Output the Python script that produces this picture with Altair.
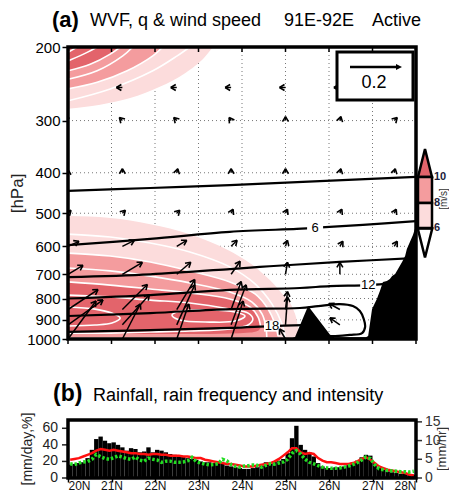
import math
import altair as alt
import pandas as pd

FONT = "Liberation Sans"
W = 348                 # plot width (both panels)
H_A = 292               # panel (a) height
B_TOP, B_BOT = 373, 431  # panel (b) vertical extent inside the single view
LAT_MIN, LAT_MAX = 20, 28
P_TOP, P_BOT = 200, 1000
PALE, MED, DARK = "#fcdcdc", "#f49c9e", "#e3646b"

# ---------------- panel (a): wind speed shading, upper-level jet (lower edge of band, lat/hPa)
UP_WS6 = [(20.00, 281), (20.74, 275), (21.43, 265), (22.11, 249), (22.69, 231), (23.15, 211), (23.33, 200)]
UP_WS8 = [(20.00, 252), (20.67, 243), (21.36, 228), (21.95, 210), (22.18, 200)]
UP_WS10 = [(20.00, 228), (20.51, 220), (20.97, 208), (21.20, 200)]
UP_W7 = [(20.00, 269), (20.97, 252), (21.95, 228), (22.51, 210), (22.80, 200)]
UP_W9 = [(20.00, 239), (20.67, 228), (21.26, 210), (21.49, 200)]
UP_W11 = [(20.00, 216), (20.44, 206), (20.67, 200)]
UP_W12 = [(20.00, 206), (20.21, 200)]

# lower-level jet: (lat, top hPa, bottom hPa)
LOW_WS6 = [(20.00, 508, 1000), (20.97, 513, 1000), (21.89, 531, 1000), (22.80, 561, 1000),
           (23.72, 616, 1000), (24.41, 687, 1000), (24.87, 768, 1000), (25.22, 871, 1000), (25.33, 989, 1000)]
LOW_WS8 = [(20.00, 623, 990), (20.97, 633, 990), (21.89, 654, 990), (22.80, 687, 990), (23.72, 730, 990),
           (24.30, 780, 990), (24.60, 848, 990), (24.76, 921, 990), (24.83, 985, 990)]
LOW_WS10 = [(20.00, 730, 973), (20.97, 743, 973), (21.89, 759, 973), (22.80, 776, 973), (23.72, 802, 970),
            (24.18, 838, 965), (24.37, 886, 955), (24.43, 936, 940)]
LOW_W7 = [(20.00, 561), (20.97, 570), (21.89, 589), (22.80, 619), (23.72, 672), (24.30, 738),
          (24.69, 825), (24.92, 921), (24.99, 989)]
LOW_W9 = [(20.00, 676), (20.97, 687), (21.89, 707), (22.80, 734), (23.72, 772), (24.23, 816),
          (24.46, 871), (24.55, 936), (24.57, 989)]
LOW_W11 = [(20.00, 785), (20.97, 793), (21.89, 807), (22.80, 820), (23.72, 848), (24.14, 867), (24.25, 896),
           (24.14, 926), (23.72, 946), (22.80, 957), (21.89, 962), (20.97, 968), (20.00, 968)]
LOW_W12A = [(20.00, 838), (20.62, 848), (21.01, 867), (21.20, 891), (21.01, 916), (20.62, 926), (20.00, 931)]
LOW_W12B = [(22.57, 857), (23.26, 852), (23.84, 862), (24.07, 881), (23.84, 906), (23.26, 911),
            (22.57, 901), (22.39, 876), (22.57, 857)]

# specific humidity contours (g/kg)
Q3 = [(20.00, 442), (21.89, 435), (23.72, 428), (25.79, 419), (28.00, 409)]
Q6 = [(20.00, 596), (21.89, 576), (23.72, 554), (25.26, 545), (25.63, 542), (26.78, 533), (28.00, 522)]
Q9 = [(20.00, 711), (21.89, 700), (23.72, 680), (24.41, 672), (25.10, 665), (26.25, 654), (27.93, 640)]
Q12 = [(20.00, 800), (21.89, 785), (23.72, 763), (25.33, 755), (26.02, 747), (26.90, 743), (27.52, 734)]
Q15 = [(20.00, 881), (21.89, 867), (23.72, 848), (25.33, 843), (25.75, 834), (26.25, 825), (26.55, 834),
       (26.71, 857), (26.80, 896), (26.83, 936), (26.76, 968), (26.48, 978), (26.14, 984), (25.91, 984)]
Q18 = [(20.00, 962), (21.89, 952), (23.72, 941), (24.69, 931), (25.40, 926)]
Q_LABELS = ["6", "12", "18"]
Q_LABEL_LAT = [25.68, 26.90, 24.69]
Q_LABEL_P = [542, 743, 931]

# topography (surface pressure)
TOPO = [(25.10, 1000), (25.22, 989), (25.52, 834), (26.02, 975), (26.12, 990), (26.85, 990), (26.90, 984),
        (26.99, 848), (27.10, 802), (27.17, 768), (27.24, 730), (27.33, 726), (27.40, 718), (27.45, 707),
        (27.52, 699), (27.56, 687), (27.68, 654), (27.75, 633), (27.79, 609), (27.86, 586), (27.93, 564),
        (28.00, 535)]

# water vapour flux vectors (reference vector 0.2)
VEC_COLS = [20.0, 21.25, 22.5, 23.75, 25.0, 26.25, 27.5]
VEC_ROWS = [250, 300, 400, 500, 600, 700, 850, 925, 1000]
VEC_U = [
    [-0.024, -0.024, -0.024, -0.024, -0.024, -0.024, -0.024],
    [-0.016, -0.012, -0.012, -0.008, 0.0, 0.004, 0.012],
    [0.0, 0.0, 0.004, 0.0, 0.0, 0.004, 0.004],
    [0.012, 0.012, 0.012, 0.008, 0.008, 0.008, 0.008],
    [0.044, 0.048, 0.040, 0.024, 0.008, 0.012, 0.012],
    [0.060, 0.080, 0.056, 0.036, 0.008, 0.0, None],
    [0.120, 0.100, 0.072, 0.040, 0.008, -0.044, None],
    [0.140, 0.108, 0.072, 0.060, 0.008, -0.040, None],
    [0.112, 0.072, 0.048, 0.048, -0.024, None, None],
]
VEC_W = [
    [0.0, 0.0, 0.0, 0.0, 0.0, 0.0, 0.0],
    [0.004, 0.012, 0.012, 0.012, 0.016, 0.016, 0.012],
    [0.012, 0.016, 0.016, 0.016, 0.016, 0.016, 0.016],
    [0.012, 0.012, 0.012, 0.016, 0.016, 0.016, 0.016],
    [0.020, 0.024, 0.024, 0.024, 0.024, 0.020, 0.020],
    [0.036, 0.048, 0.048, 0.052, 0.048, 0.048, None],
    [0.080, 0.100, 0.120, 0.112, 0.072, 0.024, None],
    [0.100, 0.120, 0.160, 0.160, 0.112, 0.028, None],
    [0.152, 0.140, 0.140, 0.152, 0.040, None, None],
]
PX_PER_UNIT = 250.0  # reference arrow: 0.2 -> 50 px

# ---------------- panel (b)
B_LAT = [round(20.05 + 0.1 * i, 2) for i in range(80)]
B_RAIN = [16, 17, 18, 19, 24, 34, 47, 50, 45, 42, 43, 40, 37, 33, 36, 35, 31, 32, 37, 31,
          34, 33, 31, 29, 28, 27, 26, 24, 23, 22, 20, 19, 19, 18, 18, 17, 15, 14, 13, 12,
          11, 11, 12, 13, 15, 19, 17, 20, 21, 23, 30, 48, 63, 40, 34, 31, 26, 18, 14, 12,
          12, 13, 13, 14, 16, 19, 21, 25, 28, 27, 18, 12, 10, 8, 7, 6, 5, 5, 4, 4]
B_FREQ = [22, 23, 24, 26, 28, 30, 33, 35, 34, 33, 34, 33, 32, 31, 30, 30, 29, 29, 28, 29,
          29, 28, 28, 27, 27, 27, 26, 26, 25, 24, 24, 22, 21, 20, 19, 18, 17, 17, 16, 15,
          14, 14, 14, 15, 16, 17, 18, 20, 23, 27, 31, 36, 36, 31, 29, 30, 29, 24, 21, 19,
          19, 18, 17, 17, 17, 18, 20, 23, 25, 22, 18, 14, 12, 10, 9, 8, 7, 6, 4, 3]
B_INT = [3.8, 3.6, 4.0, 4.3, 4.4, 5.0, 6.3, 5.7, 5.2, 5.0, 5.4, 5.9, 5.6, 5.2, 5.0, 5.6, 4.8, 4.5, 5.3, 5.0,
         4.8, 4.2, 4.5, 4.5, 4.2, 4.2, 4.3, 4.6, 5.5, 4.4, 4.0, 3.7, 3.5, 3.6, 3.8, 5.0, 4.6, 3.6, 3.1, 2.9,
         3.2, 3.3, 3.5, 3.4, 2.9, 3.4, 3.8, 3.7, 4.0, 4.3, 5.0, 6.6, 7.3, 6.4, 5.0, 4.2, 3.8, 3.3, 2.9, 2.7,
         2.6, 2.6, 2.7, 2.9, 3.2, 3.6, 4.1, 4.8, 5.6, 5.2, 3.6, 2.5, 2.2, 2.0, 1.9, 1.8, 1.7, 1.7, 1.6, 1.8]
B_LEFT_TICKS = [0, 20, 40, 60]
B_RIGHT_TICKS = [0, 5, 10, 15]
LAT_TICKS = list(range(20, 29))
P_TICKS = [200, 300, 400, 500, 600, 700, 800, 900, 1000]

# ======================================================================
ONE = pd.DataFrame({"k": [0]})


def pts_df(pts, pid="c"):
    return pd.DataFrame([{"id": pid, "i": i, "lat": a, "p": b} for i, (a, b) in enumerate(pts)])


def paths_df(named):
    return pd.concat([pts_df(pts, name) for name, pts in named], ignore_index=True)


def band_df(pts):
    return pd.DataFrame([{"lat": a, "p": t, "pb": b} for a, t, b in pts])


def txt(t, x, y, **kw):
    return alt.Chart(pd.DataFrame({"t": [t]})).mark_text(**kw).encode(
        x=alt.value(x), y=alt.value(y), text="t:N")


SX = alt.Scale(domain=[LAT_MIN, LAT_MAX], nice=False, zero=False)
AX_X = alt.Axis(values=LAT_TICKS, labelExpr="datum.value + 'N'", labelFontSize=12, labelColor="#111",
                tickSize=4, tickColor="black", tickWidth=1.5, labelPadding=-2, domain=False, grid=False,
                title=None)
SY_A = alt.Scale(type="log", domain=[P_TOP, P_BOT], range=[0, H_A], nice=False)
AX_YA = alt.Axis(values=P_TICKS, format="d", tickSize=6, tickColor="black", tickWidth=1.5, labelFontSize=15,
                 labelPadding=2, labelColor="black", title="[hPa]", titleFontSize=17, titleFontWeight="normal",
                 titlePadding=0, titleColor="#222", domain=False, grid=False)
SY_L = alt.Scale(domain=[0, 70], range=[B_BOT, B_TOP], nice=False, zero=False)
SY_R = alt.Scale(domain=[0, 15.5], range=[B_BOT, B_TOP], nice=False, zero=False)


def XX(f="lat"):
    return alt.X(f"{f}:Q", scale=SX, axis=AX_X)


def YA(f="p"):
    return alt.Y(f"{f}:Q", scale=SY_A, axis=AX_YA)


# ---------------------------------------------------------------- panel (a) layers
la = []
# invisible anchor fixing the outer bounds of the whole figure
la.append(alt.Chart(ONE).mark_rect(opacity=0).encode(
    x=alt.value(-60), x2=alt.value(381), y=alt.value(-39), y2=alt.value(445)))
# dotted grid
la.append(alt.Chart(pd.DataFrame({"p": P_TICKS[1:-1]})).mark_rule(color="#777", strokeWidth=1,
                                                                 strokeDash=[1, 3])
          .encode(x=alt.value(0), x2=alt.value(W), y=YA()))
la.append(alt.Chart(pd.DataFrame({"lat": LAT_TICKS[1:-1]})).mark_rule(color="#777", strokeWidth=1,
                                                                     strokeDash=[1, 3])
          .encode(x=XX(), y=alt.value(0), y2=alt.value(H_A)))
# upper jet shading
for pts, col in [(UP_WS6, PALE), (UP_WS8, MED), (UP_WS10, DARK)]:
    la.append(alt.Chart(pts_df(pts)).mark_area(color=col, interpolate="monotone", clip=True)
              .encode(x=XX(), y=YA(), y2=alt.datum(P_TOP)))
# lower jet shading
for pts, col in [(LOW_WS6, PALE), (LOW_WS8, MED), (LOW_WS10, DARK)]:
    la.append(alt.Chart(band_df(pts)).mark_area(color=col, interpolate="monotone", clip=True)
              .encode(x=XX(), y=YA(), y2="pb:Q"))
# white wind-speed contours
white = paths_df([("u7", UP_W7), ("u8", UP_WS8), ("u9", UP_W9), ("u10", UP_WS10), ("u11", UP_W11),
                  ("u12", UP_W12), ("l7", LOW_W7), ("l8", [(a, t) for a, t, b in LOW_WS8]), ("l9", LOW_W9),
                  ("l10", [(a, t) for a, t, b in LOW_WS10]), ("l11", LOW_W11), ("l12a", LOW_W12A),
                  ("l12b", LOW_W12B)])
la.append(alt.Chart(white).mark_line(color="white", strokeWidth=1.6, interpolate="catmull-rom", clip=True)
          .encode(x=XX(), y=YA(), detail="id:N", order="i:Q"))
# q contours
qdf = paths_df([("q3", Q3), ("q6", Q6), ("q9", Q9), ("q12", Q12), ("q15", Q15), ("q18", Q18)])
la.append(alt.Chart(qdf).mark_line(color="black", strokeWidth=2.2, interpolate="catmull-rom", clip=True)
          .encode(x=XX(), y=YA(), detail="id:N", order="i:Q"))
# topography
la.append(alt.Chart(pts_df(TOPO)).mark_area(color="black", interpolate="linear", clip=True)
          .encode(x=XX(), y=YA(), y2=alt.datum(P_BOT)))
# contour labels
lab = pd.DataFrame({"t": Q_LABELS, "lat": Q_LABEL_LAT, "p": Q_LABEL_P})
BOX = "M-1,-0.7L1,-0.7L1,0.7L-1,0.7Z"
la.append(alt.Chart(lab).mark_point(shape=BOX, filled=True, color="white", opacity=1, size=256, strokeWidth=0)
          .encode(x=XX(), y=YA()))
la.append(alt.Chart(lab).mark_text(fontSize=13, color="black", baseline="middle", align="center")
          .encode(x=XX(), y=YA(), text="t:N"))
# vectors
rows = []
for r, p in enumerate(VEC_ROWS):
    for c, lat in enumerate(VEC_COLS):
        u, w = VEC_U[r][c], VEC_W[r][c]
        if u is None:
            continue
        dx, dy = u * PX_PER_UNIT, -w * PX_PER_UNIT
        rows.append({"lat": lat, "p": p,
                     "lat2": lat + dx * (LAT_MAX - LAT_MIN) / W,
                     "p2": p * (P_BOT / P_TOP) ** (dy / H_A),
                     "ang": math.degrees(math.atan2(dy, dx)) % 360})
vec = pd.DataFrame(rows)
la.append(alt.Chart(vec).mark_rule(color="black", strokeWidth=1.5, clip=True)
          .encode(x=XX(), y=YA(), x2="lat2:Q", y2="p2:Q"))
HEAD = "M0,0L-1,-0.6M0,0L-1,0.6"
la.append(alt.Chart(vec).mark_point(shape=HEAD, filled=False, color="black", strokeWidth=1.6, size=100,
                                    opacity=1, clip=True)
          .encode(x=XX("lat2"), y=YA("p2"), angle=alt.Angle("ang:Q", scale=None)))
# ticks: inward on top, outward at bottom of panel (a)
ticks_df = pd.DataFrame({"lat": LAT_TICKS})
la.append(alt.Chart(ticks_df).mark_rule(color="black", strokeWidth=1.5)
          .encode(x=XX(), y=alt.value(0), y2=alt.value(5)))
la.append(alt.Chart(ticks_df).mark_rule(color="black", strokeWidth=1.5)
          .encode(x=XX(), y=alt.value(H_A), y2=alt.value(H_A + 5)))
# reference vector box
la.append(alt.Chart(ONE).mark_rect(color="white", stroke="black", strokeWidth=3)
          .encode(x=alt.value(269), x2=alt.value(345), y=alt.value(5), y2=alt.value(53)))
la.append(alt.Chart(ONE).mark_rule(color="black", strokeWidth=2.5)
          .encode(x=alt.value(282), x2=alt.value(328), y=alt.value(20), y2=alt.value(20)))
la.append(alt.Chart(ONE).mark_point(shape="M0,0L-1,-0.5L-1,0.5Z", filled=True, color="black", size=144,
                                    opacity=1)
          .encode(x=alt.value(334), y=alt.value(20)))
la.append(txt("0.2", 306, 36, fontSize=18, align="center", baseline="middle"))
# colour bar
CB_X = 357
la.append(alt.Chart(ONE).mark_point(shape="M0,-1L0.5,1L-0.5,1Z", filled=True, color=DARK, stroke="black",
                                    strokeWidth=2.5, size=784, opacity=1)
          .encode(x=alt.value(CB_X), y=alt.value(116)))
la.append(alt.Chart(ONE).mark_point(shape="M0,1L0.5,-1L-0.5,-1Z", filled=True, color="white", stroke="black",
                                    strokeWidth=2.5, size=841, opacity=1)
          .encode(x=alt.value(CB_X), y=alt.value(196)))
for y0, y1, col in [(130, 156, MED), (156, 181, PALE)]:
    la.append(alt.Chart(ONE).mark_rect(color=col, stroke="black", strokeWidth=2.5)
              .encode(x=alt.value(CB_X - 7), x2=alt.value(CB_X + 7), y=alt.value(y0), y2=alt.value(y1)))
for t, yy in [("10", 130), ("8", 156), ("6", 181)]:
    la.append(txt(t, CB_X + 9, yy, fontSize=11, fontWeight="bold", color="#1b1b3a", align="left",
                  baseline="middle"))
la.append(txt("[m/s]", 376, 152, fontSize=10, color="#333", angle=270, align="center", baseline="middle"))
# titles
la.append(txt("(a)", -16, -20, fontSize=22, fontWeight="bold", align="left", baseline="alphabetic"))
for t, xx in [("WVF, q & wind speed", 22), ("91E-92E", 216), ("Active", 304)]:
    la.append(txt(t, xx, -21, fontSize=18, align="left", baseline="alphabetic"))
la.append(txt("(b)", -15, B_TOP - 19, fontSize=23, fontWeight="bold", align="left", baseline="alphabetic"))
la.append(txt("Rainfall, rain frequency and intensity", 25, B_TOP - 19, fontSize=18, align="left",
              baseline="alphabetic"))
la.append(txt("[mm/day,%]", -40, (B_TOP + B_BOT) / 2, fontSize=14, color="#222", angle=270, align="center",
              baseline="middle"))
la.append(txt("[mm/hr]", 374, (B_TOP + B_BOT) / 2, fontSize=13, color="#333", angle=270, align="center",
              baseline="middle"))
# frames
for y0, y1 in [(0, H_A), (B_TOP, B_BOT)]:
    la.append(alt.Chart(ONE).mark_rect(fillOpacity=0, stroke="black", strokeWidth=3.5)
              .encode(x=alt.value(0), x2=alt.value(W), y=alt.value(y0), y2=alt.value(y1)))
panel_a = alt.layer(*la)

# ---------------------------------------------------------------- panel (b) layers
bdf = pd.DataFrame({"lat": B_LAT, "rain": B_RAIN, "freq": B_FREQ, "inten": B_INT})
bars = alt.Chart(bdf).transform_calculate(x0="datum.lat - 0.05", x1="datum.lat + 0.05").mark_rect(
    color="black", strokeWidth=0).encode(
    x=XX("x0"), x2="x1:Q", y=alt.Y("rain:Q", scale=SY_L, axis=None), y2=alt.datum(0))
red = alt.Chart(bdf).mark_line(color="#ff1010", strokeWidth=2.5).encode(
    x=XX(), y=alt.Y("freq:Q", scale=SY_L, axis=None))
ltk = pd.DataFrame({"v": B_LEFT_TICKS})
lticks = alt.Chart(ltk).mark_rule(color="#222", strokeWidth=1.5).encode(
    x=alt.value(-6), x2=alt.value(0), y=alt.Y("v:Q", scale=SY_L, axis=None))
llabels = alt.Chart(ltk).mark_text(fontSize=14, color="#222", align="right", baseline="middle").encode(
    x=alt.value(-10), y=alt.Y("v:Q", scale=SY_L, axis=None), text="v:Q")
panel_bl = alt.layer(bars, red, lticks, llabels)

rtk = pd.DataFrame({"v": B_RIGHT_TICKS})
green = alt.Chart(bdf).mark_line(color="#22dd22", strokeWidth=3.5, strokeDash=[2.5, 2]).encode(
    x=XX(), y=alt.Y("inten:Q", scale=SY_R, axis=None))
rticks = alt.Chart(rtk).mark_rule(color="#333", strokeWidth=1.5).encode(
    x=alt.value(W), x2=alt.value(W + 6), y=alt.Y("v:Q", scale=SY_R, axis=None))
rlabels = alt.Chart(rtk).mark_text(fontSize=14, color="#333", align="left", baseline="middle").encode(
    x=alt.value(W + 9), y=alt.Y("v:Q", scale=SY_R, axis=None), text="v:Q")
panel_br = alt.layer(green, rticks, rlabels)

chart = alt.layer(panel_bl, panel_br, panel_a).resolve_scale(y="independent").properties(
    width=W, height=B_BOT, padding=0).configure(font=FONT).configure_view(stroke="transparent")

chart.save("out.html", embed_options={"renderer": "svg", "actions": False})
